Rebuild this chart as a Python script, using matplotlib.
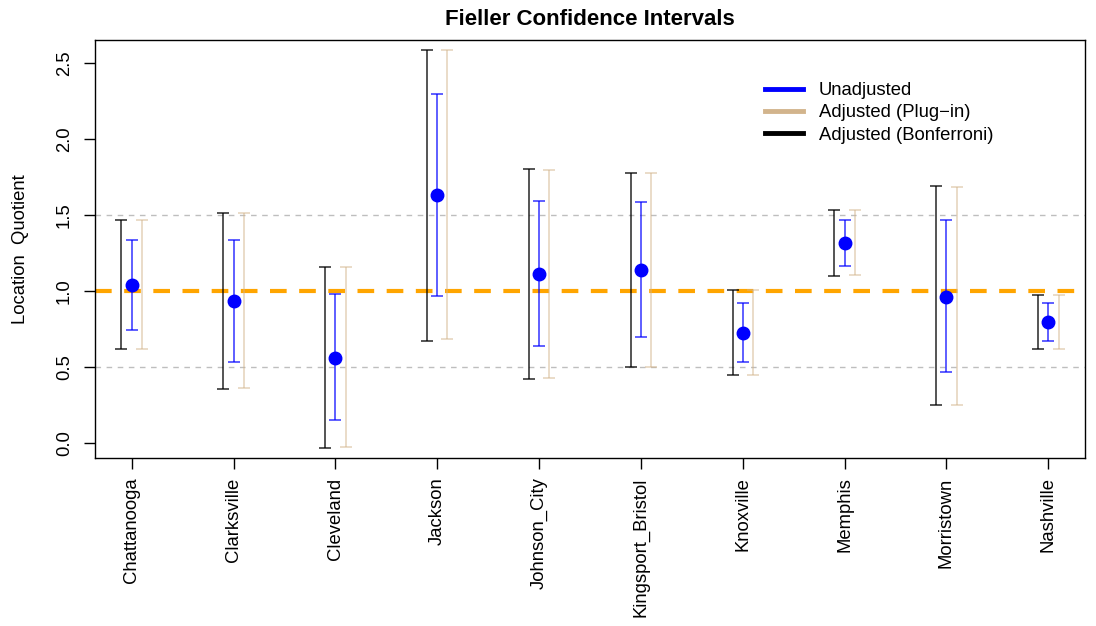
import numpy as np
import matplotlib
matplotlib.use('Agg')
import matplotlib.pyplot as plt
from matplotlib.lines import Line2D

plt.rcParams['font.family'] = ['Liberation Sans', 'DejaVu Sans']

cities = ['Chattanooga', 'Clarksville', 'Cleveland', 'Jackson', 'Johnson_City',
          'Kingsport_Bristol', 'Knoxville', 'Memphis', 'Morristown', 'Nashville']

lq = [1.040, 0.932, 0.561, 1.627, 1.108, 1.135, 0.724, 1.316, 0.962, 0.795]

unadj_lo = [0.740, 0.534, 0.150, 0.965, 0.634, 0.695, 0.534, 1.163, 0.468, 0.673]
unadj_hi = [1.336, 1.336, 0.978, 2.296, 1.589, 1.581, 0.918, 1.468, 1.468, 0.918]

plug_lo = [0.614, 0.362, -0.029, 0.680, 0.428, 0.501, 0.448, 1.104, 0.249, 0.620]
plug_hi = [1.468, 1.510, 1.157, 2.583, 1.792, 1.773, 1.007, 1.534, 1.680, 0.971]

bonf_lo = [0.614, 0.355, -0.033, 0.673, 0.422, 0.501, 0.448, 1.097, 0.249, 0.620]
bonf_hi = [1.468, 1.514, 1.157, 2.587, 1.799, 1.773, 1.007, 1.534, 1.689, 0.971]

x = np.arange(1, len(cities) + 1)
fs = 13.3

fig = plt.figure(figsize=(10.96, 6.26), dpi=100)
ax = fig.add_axes([95 / 1096, 1 - 458 / 626, 990 / 1096, 418 / 626])

ax.axhline(0.5, color='#bebebe', lw=1, ls=(0, (4, 4)), zorder=1)
ax.axhline(1.5, color='#bebebe', lw=1, ls=(0, (4, 4)), zorder=1)
ax.axhline(1.0, color='orange', lw=3, ls=(0, (4, 3)), zorder=2)


def bars(xs, lo, hi, color, alpha):
    lo = np.array(lo)
    hi = np.array(hi)
    ax.vlines(xs, lo, hi, color=color, lw=1.1, alpha=alpha, zorder=3)
    ax.errorbar(xs, (lo + hi) / 2, yerr=(hi - lo) / 2, fmt='none',
                ecolor=color, elinewidth=0, capsize=4, capthick=1.1,
                alpha=alpha, zorder=3)


bars(x - 0.1, bonf_lo, bonf_hi, 'black', 0.85)
bars(x + 0.1, plug_lo, plug_hi, 'tan', 0.6)
bars(x, unadj_lo, unadj_hi, 'blue', 0.8)
ax.plot(x, lq, 'o', color='blue', ms=9, zorder=4)

ax.set_xlim(0.64, 10.36)
ax.set_ylim(-0.1, 2.65)
ax.set_xticks(x)
ax.set_xticklabels(cities, rotation=90, fontsize=fs)
ax.set_yticks([0.0, 0.5, 1.0, 1.5, 2.0, 2.5])
ax.set_yticklabels(['0.0', '0.5', '1.0', '1.5', '2.0', '2.5'], rotation=90,
                   va='center', fontsize=fs)
ax.tick_params(axis='both', length=8, width=1, pad=6)
ax.tick_params(axis='y', pad=8)
ax.set_ylabel('Location  Quotient', fontsize=fs, labelpad=19)
ax.set_title('Fieller Confidence Intervals', fontsize=16, fontweight='bold', pad=11)
for s in ax.spines.values():
    s.set_linewidth(1)

handles = [Line2D([], [], color='blue', lw=3.5),
           Line2D([], [], color='tan', lw=3.5),
           Line2D([], [], color='black', lw=3.5)]
ax.legend(handles, ['Unadjusted', 'Adjusted (Plug\u2212in)', 'Adjusted (Bonferroni)'],
          loc='upper left', bbox_to_anchor=(0.66, 0.939), frameon=False,
          fontsize=fs, handlelength=2.05, labelspacing=0.29, handletextpad=0.86)

fig.savefig('out.png', dpi=100)
